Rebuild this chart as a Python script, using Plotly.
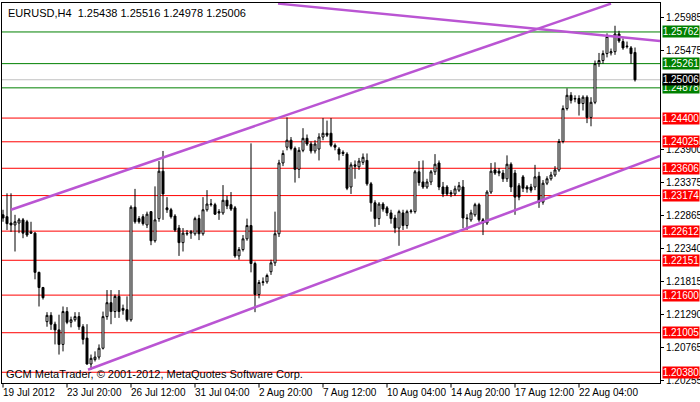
import plotly.graph_objects as go

opens = [1.2287,1.2284,1.2274,1.2271,1.2274,1.2279,1.2276,1.2260,1.2258,1.2196,1.2172,1.2118,1.2128,1.2114,1.2105,1.2082,1.2134,1.2117,1.2121,1.2126,
1.2110,1.2092,1.2051,1.2058,1.2062,1.2076,1.2126,1.2148,1.2134,1.2158,1.2139,1.2137,1.2121,1.2299,1.2281,1.2284,1.2271,1.2292,1.2246,1.2281,
1.2356,1.2298,1.2295,1.2285,1.2266,1.2243,1.2258,1.2258,1.2257,1.2281,1.2257,1.2295,1.2303,1.2303,1.2292,1.2290,1.2310,1.2303,1.2298,1.2222,
1.2232,1.2249,1.2270,1.2210,1.2161,1.2180,1.2181,1.2197,1.2211,1.2257,1.2369,1.2394,1.2405,1.2392,1.2359,1.2389,1.2408,1.2399,1.2388,1.2391,
1.2410,1.2416,1.2416,1.2397,1.2391,1.2386,1.2383,1.2331,1.2366,1.2363,1.2370,1.2373,1.2336,1.2306,1.2281,1.2304,1.2298,1.2290,1.2282,1.2266,
1.2290,1.2270,1.2292,1.2292,1.2355,1.2339,1.2331,1.2339,1.2355,1.2369,1.2331,1.2331,1.2322,1.2320,1.2326,1.2331,1.2282,1.2279,1.2287,1.2303,
1.2279,1.2274,1.2323,1.2358,1.2356,1.2353,1.2344,1.2367,1.2353,1.2333,1.2347,1.2331,1.2331,1.2331,1.2348,1.2307,1.2337,1.2344,1.2350,1.2358,
1.2403,1.2455,1.2476,1.2470,1.2471,1.2463,1.2473,1.2441,1.2465,1.2526,1.2531,1.2542,1.2543,1.2545,1.2573,1.2561,1.2554,1.2551,1.25438]
highs = [1.2295,1.2321,1.2321,1.2287,1.2282,1.2282,1.2279,1.2276,1.2260,1.2197,1.2173,1.2133,1.2133,1.2118,1.2129,1.2142,1.2141,1.2126,1.2133,1.2133,
1.2114,1.2114,1.2066,1.2071,1.2082,1.2134,1.2168,1.2168,1.2161,1.2168,1.2145,1.2158,1.2302,1.2328,1.2285,1.2288,1.2292,1.2293,1.2332,1.2372,
1.2388,1.2315,1.2298,1.2288,1.2271,1.2266,1.2263,1.2263,1.2284,1.2287,1.2315,1.2326,1.2312,1.2306,1.2296,1.2334,1.2317,1.2323,1.2301,1.2236,
1.2255,1.2281,1.2400,1.2213,1.2184,1.2188,1.2194,1.2216,1.2292,1.2374,1.2389,1.2441,1.2410,1.2395,1.2394,1.2424,1.2414,1.2403,1.2405,1.2416,
1.2440,1.2436,1.2440,1.2400,1.2394,1.2389,1.2386,1.2370,1.2373,1.2377,1.2384,1.2384,1.2339,1.2310,1.2307,1.2307,1.2301,1.2295,1.2287,1.2295,
1.2295,1.2295,1.2296,1.2358,1.2372,1.2373,1.2344,1.2358,1.2383,1.2373,1.2339,1.2334,1.2326,1.2333,1.2339,1.2342,1.2288,1.2295,1.2306,1.2306,
1.2282,1.2326,1.2369,1.2370,1.2361,1.2358,1.2381,1.2370,1.2358,1.2337,1.2350,1.2334,1.2336,1.2366,1.2355,1.2342,1.2348,1.2355,1.2364,1.2407,
1.2460,1.2487,1.2481,1.2476,1.2476,1.2476,1.2476,1.2473,1.2531,1.2543,1.2547,1.2574,1.2550,1.2586,1.2578,1.2566,1.2561,1.2554,1.25516]
lows = [1.2276,1.2263,1.2260,1.2229,1.2258,1.2250,1.2252,1.2257,1.2185,1.2142,1.2153,1.2110,1.2105,1.2082,1.2066,1.2071,1.2114,1.2109,1.2118,1.2105,
1.2082,1.2050,1.2042,1.2055,1.2058,1.2074,1.2121,1.2114,1.2124,1.2124,1.2129,1.2118,1.2118,1.2273,1.2273,1.2270,1.2266,1.2239,1.2243,1.2276,
1.2279,1.2290,1.2281,1.2260,1.2222,1.2229,1.2254,1.2249,1.2254,1.2247,1.2254,1.2292,1.2300,1.2287,1.2279,1.2287,1.2296,1.2293,1.2219,1.2216,
1.2229,1.2246,1.2196,1.2133,1.2155,1.2175,1.2178,1.2192,1.2206,1.2252,1.2364,1.2389,1.2389,1.2338,1.2345,1.2386,1.2396,1.2384,1.2384,1.2373,
1.2405,1.2410,1.2394,1.2389,1.2373,1.2380,1.2326,1.2320,1.2344,1.2358,1.2366,1.2333,1.2292,1.2268,1.2271,1.2292,1.2285,1.2273,1.2258,1.2238,
1.2263,1.2265,1.2289,1.2289,1.2333,1.2328,1.2328,1.2334,1.2350,1.2326,1.2315,1.2317,1.2315,1.2317,1.2323,1.2266,1.2263,1.2276,1.2284,1.2276,
1.2255,1.2271,1.2320,1.2350,1.2348,1.2339,1.2339,1.2323,1.2287,1.2310,1.2323,1.2322,1.2322,1.2326,1.2298,1.2303,1.2334,1.2341,1.2347,1.2355,
1.2400,1.2452,1.2463,1.2465,1.2444,1.2452,1.2432,1.2427,1.2462,1.2521,1.2526,1.2536,1.2539,1.2540,1.2559,1.2548,1.2550,1.2526,1.24978]
closes = [1.2282,1.2273,1.2271,1.2276,1.2279,1.2258,1.2255,1.2258,1.2196,1.2172,1.2156,1.2128,1.2114,1.2105,1.2082,1.2134,1.2117,1.2121,1.2126,1.2110,
1.2090,1.2051,1.2060,1.2062,1.2076,1.2126,1.2148,1.2134,1.2158,1.2134,1.2136,1.2121,1.2299,1.2276,1.2276,1.2273,1.2288,1.2246,1.2279,1.2356,
1.2320,1.2295,1.2284,1.2263,1.2243,1.2258,1.2257,1.2260,1.2281,1.2257,1.2295,1.2304,1.2304,1.2288,1.2290,1.2310,1.2301,1.2296,1.2222,1.2232,
1.2249,1.2270,1.2210,1.2161,1.2180,1.2181,1.2191,1.2211,1.2257,1.2369,1.2384,1.2405,1.2392,1.2359,1.2389,1.2408,1.2399,1.2388,1.2399,1.2410,
1.2416,1.2413,1.2397,1.2394,1.2383,1.2384,1.2329,1.2366,1.2364,1.2372,1.2378,1.2336,1.2306,1.2281,1.2304,1.2296,1.2290,1.2281,1.2266,1.2292,
1.2270,1.2292,1.2293,1.2355,1.2338,1.2331,1.2339,1.2355,1.2367,1.2331,1.2320,1.2320,1.2320,1.2328,1.2333,1.2282,1.2281,1.2290,1.2303,1.2279,
1.2274,1.2323,1.2356,1.2353,1.2353,1.2344,1.2367,1.2331,1.2315,1.2315,1.2329,1.2328,1.2326,1.2347,1.2307,1.2337,1.2344,1.2350,1.2358,1.2403,
1.2455,1.2476,1.2468,1.2471,1.2463,1.2473,1.2441,1.2465,1.2526,1.2531,1.2542,1.2569,1.2545,1.2573,1.2562,1.2551,1.2553,1.2542,1.25006]

date_labels = ["19 Jul 2012","23 Jul 20:00","26 Jul 12:00","31 Jul 04:00","2 Aug 20:00",
               "7 Aug 12:00","10 Aug 04:00","14 Aug 20:00","17 Aug 12:00","22 Aug 04:00"]
date_bars = [0,16,32,48,64,80,96,112,128,144]

axis_ticks = [1.25985,1.25475,1.23900,1.23375,1.22865,1.22340,1.21815,1.21290,1.20765,1.20255]
green_levels = [1.25762,1.25261,1.24878]
red_levels = [1.24400,1.24025,1.23606,1.23174,1.22612,1.22151,1.21600,1.21005,1.20380]
current_price = 1.25006

# trend lines: (bar0, price0, bar1, price1)
trend_lines = [(2,1.2295,152,1.2621),(21.25,1.2042,164.25,1.2380),(68.75,1.2621,164.25,1.2562)]

FONT = "Liberation Sans"
x = list(range(len(opens)))
fig = go.Figure(go.Candlestick(
    x=x, open=opens, high=highs, low=lows, close=closes,
    increasing=dict(line=dict(color="black", width=1), fillcolor="white"),
    decreasing=dict(line=dict(color="black", width=1), fillcolor="black"),
    whiskerwidth=0, showlegend=False, hoverinfo="skip"))

shapes = []
for lv in red_levels:
    shapes.append(dict(type="line", xref="paper", x0=0, x1=1, y0=lv, y1=lv, line=dict(color="red", width=1), layer="below"))
for lv in green_levels:
    shapes.append(dict(type="line", xref="paper", x0=0, x1=1, y0=lv, y1=lv, line=dict(color="green", width=1), layer="below"))
shapes.append(dict(type="line", xref="paper", x0=0, x1=1, y0=current_price, y1=current_price, line=dict(color="#c0c0c0", width=1), layer="below"))
for b0, p0, b1, p1 in trend_lines:
    shapes.append(dict(type="line", x0=b0, x1=b1, y0=p0, y1=p1, line=dict(color="#BA55D3", width=2.5)))
for b in date_bars:
    shapes.append(dict(type="line", x0=b, x1=b, yref="paper", y0=0, y1=-0.012, line=dict(color="black", width=1)))

anns = []
lab_font = dict(family=FONT, size=10, color="white")
def level_label(lv, col):
    return dict(xref="paper", x=1.0, xshift=2, y=lv, text=f"{lv:.5f}", showarrow=False, xanchor="left",
                font=lab_font, bgcolor=col, borderpad=0, width=36, align="center")
for lv in red_levels:
    anns.append(level_label(lv, "red"))
for lv in green_levels:
    anns.append(level_label(lv, "green"))
anns.append(level_label(current_price, "black"))
for b, t in zip(date_bars, date_labels):
    anns.append(dict(x=b, xshift=-2, yref="paper", y=0, yshift=-2, text=t, showarrow=False, xanchor="left", yanchor="top",
                     font=dict(family=FONT, size=10, color="black")))
anns.append(dict(xref="paper", yref="paper", x=0.006, y=0.995, xanchor="left", yanchor="top", showarrow=False,
                 text="EURUSD,H4  1.25438 1.25516 1.24978 1.25006", font=dict(family=FONT, size=11, color="black")))
anns.append(dict(xref="paper", yref="paper", x=0.003, y=0.003, xanchor="left", yanchor="bottom", showarrow=False,
                 text="GCM MetaTrader, © 2001-2012, MetaQuotes Software Corp.", font=dict(family=FONT, size=11, color="black")))

fig.update_layout(
    width=700, height=402, margin=dict(l=2, r=40, t=3, b=19, autoexpand=False),
    paper_bgcolor="white", plot_bgcolor="white",
    shapes=shapes, annotations=anns,
    xaxis=dict(range=[-0.25, 164.25], showticklabels=False, showgrid=False, zeroline=False, automargin=False,
               rangeslider=dict(visible=False), showline=True, mirror=True, linecolor="black", linewidth=1),
    yaxis=dict(range=[1.2021, 1.2622], side="right", tickvals=axis_ticks, ticktext=[f"{v:.5f}" for v in axis_ticks],
               ticks="outside", ticklen=3, tickcolor="black", showgrid=False, zeroline=False, automargin=False,
               showline=True, mirror=True, linecolor="black", linewidth=1,
               tickfont=dict(family=FONT, size=10, color="black")),
)
fig.write_html("out.html", config={"displayModeBar": False},
               post_script="document.body.style.margin='0';document.body.style.overflow='hidden';")
